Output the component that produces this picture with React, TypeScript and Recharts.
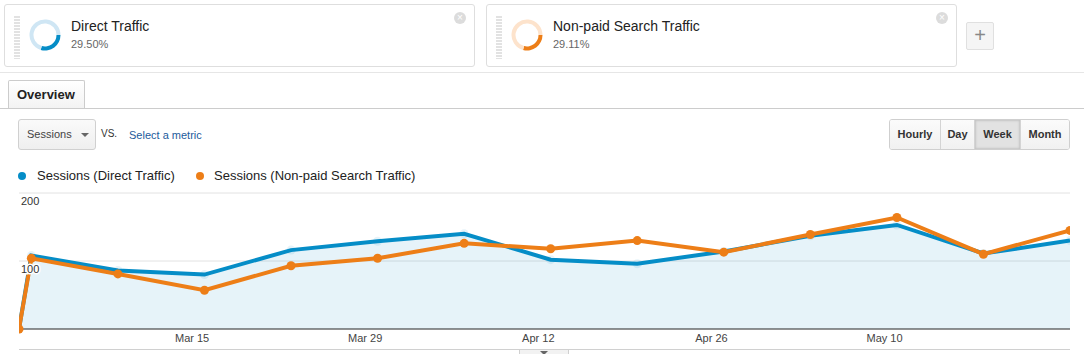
import React from 'react';
import { ComposedChart, Area, Line, XAxis, YAxis, CartesianGrid, PieChart, Pie, Cell } from 'recharts';

// Days since Mar 1 for each weekly point
const weekDays = [0, 1, 8, 15, 22, 29, 36, 43, 50, 57, 64, 71, 78, 85];
const directSessions = [0, 108, 86, 80, 116, 129, 140, 102, 96, 114, 137, 153, 111, 130];
const nonPaidSessions = [0, 104, 81, 57, 93, 104, 126, 118, 130, 113, 139, 164, 110, 145];
const tickDays = [14, 28, 42, 56, 70];
const tickLabels = ['Mar 15', 'Mar 29', 'Apr 12', 'Apr 26', 'May 10'];
const yTicks = [100, 200];
const segmentNames = ['Direct Traffic', 'Non-paid Search Traffic'];
const segmentShares = [29.5, 29.11];
const segmentLabels = ['29.50%', '29.11%'];
const seriesNames = ['Sessions (Direct Traffic)', 'Sessions (Non-paid Search Traffic)'];
const granularities = ['Hourly', 'Day', 'Week', 'Month'];

const BLUE = '#058dc7';
const ORANGE = '#ed7e17';
const LIGHT = ['#cfe6f4', '#fde3cc'];
const DARK = [BLUE, ORANGE];

const data = weekDays.map((d, i) => ({ day: d, direct: directSessions[i], nonpaid: nonPaidSessions[i] }));

const FONT = 'Arial, "Liberation Sans", sans-serif';

function SegmentCard({ idx, left }: { idx: number; left: number }) {
  const pie = [{ v: segmentShares[idx] }, { v: 100 - segmentShares[idx] }];
  return (
    <div style={{ position: 'absolute', left, top: 4, width: 469, height: 61, border: '1px solid #dedede', borderRadius: 3, background: '#fff' }}>
      <div style={{ position: 'absolute', left: 9, top: 11, width: 6, height: 43, background: 'repeating-linear-gradient(to bottom, #e2e2e2 0px, #e2e2e2 2px, #fff 2px, #fff 3px)' }} />
      <div style={{ position: 'absolute', left: 23, top: 13 }}>
        <PieChart width={34} height={34} margin={{ top: 0, right: 0, bottom: 0, left: 0 }}>
          <Pie data={pie} dataKey="v" cx={17} cy={17} innerRadius={11.5} outerRadius={15.5} startAngle={0} endAngle={-360} stroke="none" isAnimationActive={false}>
            <Cell fill={DARK[idx]} />
            <Cell fill={LIGHT[idx]} />
          </Pie>
        </PieChart>
      </div>
      <div style={{ position: 'absolute', left: 66, top: 13, fontSize: 14, color: '#222', whiteSpace: 'nowrap' }}>{segmentNames[idx]}</div>
      <div style={{ position: 'absolute', left: 66, top: 33, fontSize: 11, color: '#666' }}>{segmentLabels[idx]}</div>
      <div style={{ position: 'absolute', right: 8, top: 7, width: 12, height: 12, borderRadius: 6, background: '#dcdcdc', color: '#fff', fontSize: 10, lineHeight: '12px', textAlign: 'center' }}>×</div>
    </div>
  );
}

const renderYTick = (props: any) => {
  const { x, y, payload } = props;
  return (
    <text key={`yt-${payload.value}`} x={x} y={y + 9} textAnchor="start" dominantBaseline="middle" fontSize={11} fill="#333" stroke="#fff" strokeWidth={3} paintOrder="stroke" fontFamily={FONT}>
      {payload.value}
    </text>
  );
};

export default function App() {
  return (
    <div style={{ position: 'absolute', left: 0, top: 0, width: 1084, height: 354, overflow: 'hidden', background: '#fff', fontFamily: FONT }}>
      <SegmentCard idx={0} left={4} />
      <SegmentCard idx={1} left={486} />
      <div style={{ position: 'absolute', left: 966, top: 22, width: 26, height: 26, border: '1px solid #e0e0e0', borderRadius: 2, background: '#f5f5f5', color: '#888', fontSize: 20, lineHeight: '25px', textAlign: 'center' }}>+</div>
      <div style={{ position: 'absolute', left: 0, top: 72, width: 1084, height: 1, background: '#e6e6e6' }} />

      {/* Tab */}
      <div style={{ position: 'absolute', left: 0, top: 108, width: 1084, height: 1, background: '#cccccc' }} />
      <div style={{ position: 'absolute', left: 8, top: 80, width: 77, height: 28, border: '1px solid #cccccc', borderBottom: 'none', borderTopLeftRadius: 2, borderTopRightRadius: 2, background: 'linear-gradient(#ffffff, #f3f3f3)', fontSize: 13, fontWeight: 'bold', color: '#222', lineHeight: '28px', paddingLeft: 8, boxSizing: 'border-box' }}>Overview</div>

      {/* Controls */}
      <div style={{ position: 'absolute', left: 18, top: 119, width: 78, height: 31, border: '1px solid #d0d0d0', borderRadius: 3, boxSizing: 'border-box', background: 'linear-gradient(#fafafa, #efefef)', fontSize: 11, color: '#444', lineHeight: '29px', paddingLeft: 8 }}>
        Sessions
        <div style={{ position: 'absolute', left: 62, top: 13, width: 0, height: 0, borderLeft: '4px solid transparent', borderRight: '4px solid transparent', borderTop: '4px solid #666' }} />
      </div>
      <div style={{ position: 'absolute', left: 101, top: 128, fontSize: 10, color: '#333' }}>VS.</div>
      <div style={{ position: 'absolute', left: 129, top: 129, fontSize: 11, color: '#1d5b9c' }}>Select a metric</div>

      <div style={{ position: 'absolute', left: 889, top: 119, height: 31, display: 'flex', border: '1px solid #cfcfcf', borderRadius: 3, boxSizing: 'border-box', overflow: 'hidden' }}>
        {granularities.map((g, i) => (
          <div key={g} style={{ width: [50, 34, 46, 49][i], height: 29, boxSizing: 'border-box', borderLeft: i === 0 ? 'none' : '1px solid #d4d4d4', background: g === 'Week' ? '#e2e2e2' : 'linear-gradient(#fbfbfb, #f1f1f1)', boxShadow: g === 'Week' ? 'inset 0 0 2px 1px #c4c4c4' : 'none', fontSize: 11, fontWeight: 'bold', color: '#333', lineHeight: '29px', textAlign: 'center' }}>{g}</div>
        ))}
      </div>

      {/* Legend */}
      <div style={{ position: 'absolute', left: 18, top: 172, width: 8, height: 8, borderRadius: 4, background: BLUE }} />
      <div style={{ position: 'absolute', left: 37, top: 168, fontSize: 13, color: '#222', whiteSpace: 'nowrap' }}>{seriesNames[0]}</div>
      <div style={{ position: 'absolute', left: 196, top: 172, width: 8, height: 8, borderRadius: 4, background: ORANGE }} />
      <div style={{ position: 'absolute', left: 214, top: 168, fontSize: 13, color: '#222', whiteSpace: 'nowrap' }}>{seriesNames[1]}</div>

      {/* Chart */}
      <div style={{ position: 'absolute', left: 0, top: 185 }}>
        <ComposedChart width={1084} height={169} data={data} margin={{ top: 8, right: 14, bottom: 0, left: 19 }}>
          <CartesianGrid vertical={false} stroke="#e2e2e2" />
          <XAxis dataKey="day" type="number" domain={[0, 85]} ticks={tickDays} tickFormatter={(v: number) => tickLabels[tickDays.indexOf(v)]} height={25} axisLine={{ stroke: '#333', strokeWidth: 1 }} tickLine={false} tickSize={0} tickMargin={5} tick={{ fontSize: 11, fill: '#444', fontFamily: FONT }} allowDataOverflow />
          <Area type="linear" dataKey="direct" stroke={BLUE} strokeWidth={4} fill={BLUE} fillOpacity={0.1} dot={{ r: 4.5, fill: BLUE, stroke: BLUE, strokeWidth: 0 }} activeDot={false} isAnimationActive={false} />
          <Line type="linear" dataKey="nonpaid" stroke={ORANGE} strokeWidth={4} dot={{ r: 4.5, fill: ORANGE, stroke: ORANGE, strokeWidth: 0 }} activeDot={false} isAnimationActive={false} />
          <YAxis type="number" domain={[0, 200]} ticks={yTicks} width={40} mirror axisLine={false} tickLine={false} tickSize={0} tickMargin={2} tick={renderYTick} interval={0} />
        </ComposedChart>
      </div>
      <div style={{ position: 'absolute', left: 19, top: 349, width: 1051, height: 1, background: '#d0d0d0' }} />
      <div style={{ position: 'absolute', left: 519, top: 349, width: 50, height: 8, border: '1px solid #d0d0d0', boxSizing: 'border-box', background: '#f2f2f2' }}>
        <div style={{ position: 'absolute', left: 20, top: 1, width: 0, height: 0, borderLeft: '4px solid transparent', borderRight: '4px solid transparent', borderTop: '4px solid #666' }} />
      </div>
    </div>
  );
}
